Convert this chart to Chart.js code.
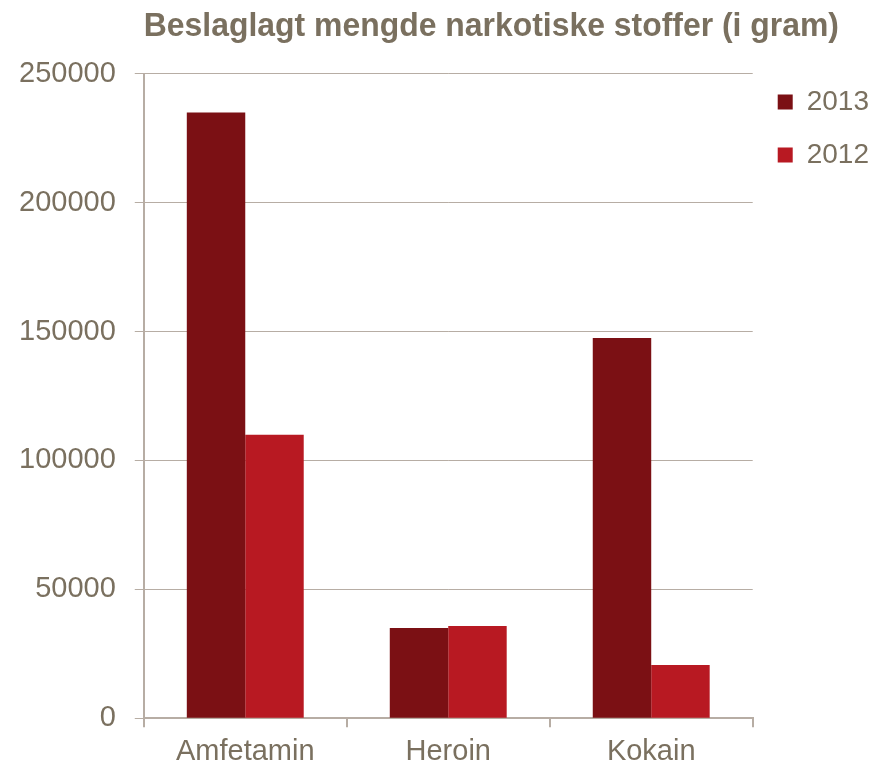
<!DOCTYPE html>
<html lang="no">
<head>
    <meta charset="UTF-8">
    <title>Beslaglagt mengde narkotiske stoffer</title>
    <script src="https://cdn.jsdelivr.net/npm/chart.js"></script>
    <style>
        html, body { margin: 0; padding: 0; background: #fff; }
        #wrap { width: 884px; height: 765px; }
    </style>
</head>
<body>
    <div id="wrap"><canvas id="drugChart"></canvas></div>

    <script>
        // data
        const categories = ['Amfetamin', 'Heroin', 'Kokain'];
        const values2013 = [235000, 35000, 147500];
        const values2012 = [110000, 35800, 20600];
        const yTicks = [0, 50000, 100000, 150000, 200000, 250000];

        const textColor = '#7a705f';
        const lineColor = '#b7ada4';

        // centre the title a bit right of the canvas middle, like the original
        const titleShift = {
            id: 'titleShift',
            afterLayout(chart) {
                const t = chart.titleBlock;
                if (t) {
                    t.left = chart.chartArea.left;
                    t.right = chart.width - 45;
                }
            }
        };

        const ctx = document.getElementById('drugChart').getContext('2d');
        const drugChart = new Chart(ctx, {
            type: 'bar',
            data: {
                labels: categories,
                datasets: [{
                    label: '2013',
                    data: values2013,
                    backgroundColor: '#7b1014',
                    borderWidth: 0
                }, {
                    label: '2012',
                    data: values2012,
                    backgroundColor: '#b81922',
                    borderWidth: 0
                }]
            },
            options: {
                responsive: true,
                maintainAspectRatio: false,
                animation: false,
                layout: { padding: { left: 0, right: 5, top: 0, bottom: -11 } },
                datasets: {
                    bar: { categoryPercentage: 0.576, barPercentage: 1.0 }
                },
                plugins: {
                    title: {
                        display: true,
                        text: 'Beslaglagt mengde narkotiske stoffer (i gram)',
                        color: textColor,
                        font: { family: 'Liberation Sans', size: 34, weight: 'bold' },
                        padding: { top: 6, bottom: 27 }
                    },
                    legend: {
                        position: 'right',
                        align: 'start',
                        title: {
                            display: true,
                            text: '',
                            font: { size: 10 },
                            padding: { top: 51, bottom: 0 }
                        },
                        labels: {
                            color: textColor,
                            font: { family: 'Liberation Sans', size: 28 },
                            boxWidth: 15,
                            boxHeight: 15,
                            padding: 25
                        }
                    },
                    tooltip: { enabled: false }
                },
                scales: {
                    x: {
                        grid: {
                            display: true,
                            offset: true,
                            drawOnChartArea: false,
                            drawTicks: true,
                            tickLength: 9,
                            color: lineColor,
                            lineWidth: 2
                        },
                        border: { display: true, color: lineColor, width: 2 },
                        ticks: {
                            color: textColor,
                            font: { family: 'Liberation Sans', size: 29 },
                            padding: 7
                        }
                    },
                    y: {
                        min: 0,
                        max: 250000,
                        afterBuildTicks(scale) {
                            scale.ticks = yTicks.map(v => ({ value: v }));
                        },
                        grid: {
                            color: lineColor,
                            lineWidth: 1,
                            tickLength: 9
                        },
                        border: { display: true, color: lineColor, width: 2 },
                        ticks: {
                            color: textColor,
                            font: { family: 'Liberation Sans', size: 29 },
                            padding: 19,
                            callback: v => String(v)
                        }
                    }
                }
            },
            plugins: [titleShift]
        });
    </script>
</body>
</html>
